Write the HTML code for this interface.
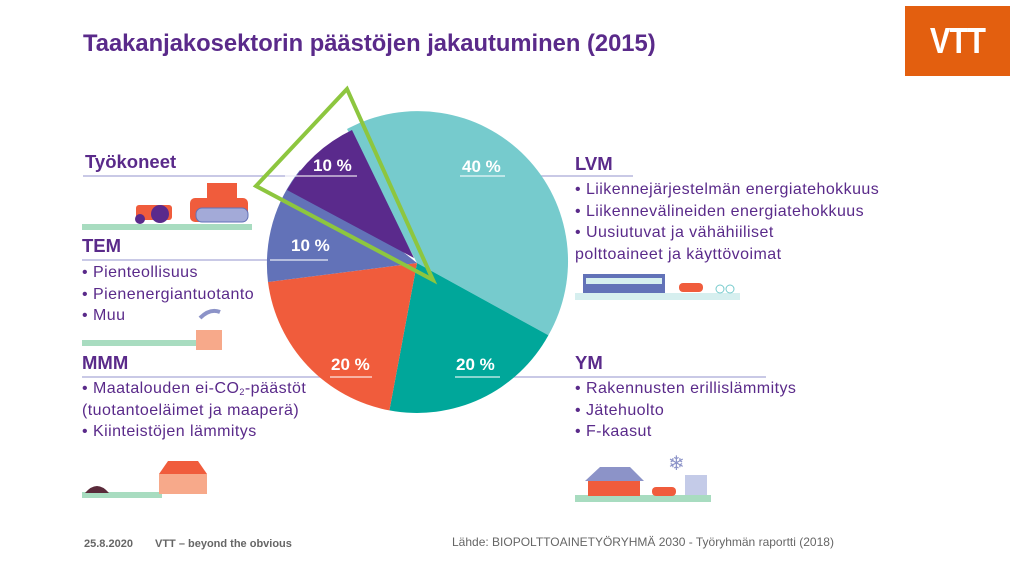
<!DOCTYPE html>
<html><head><meta charset="utf-8"><style>
body{margin:0;background:#fff;width:1024px;height:568px;overflow:hidden;position:relative;font-family:"Liberation Sans",sans-serif}
.t{position:absolute;color:#5a2a8a;white-space:nowrap}
.h{font-weight:bold;font-size:18.5px}
.b{font-size:16px;line-height:21.5px;letter-spacing:0.45px}
sub{font-size:9px;line-height:0;position:relative;top:2px;vertical-align:baseline}
</style></head><body>
<div class="t" style="left:83px;top:30px;font-size:24px;font-weight:bold;transform:scaleX(0.99);transform-origin:left">Taakanjakosektorin päästöjen jakautuminen (2015)</div>
<div style="position:absolute;left:905px;top:6px;width:105px;height:70px;background:#e35f0f"></div>
<div style="position:absolute;left:905px;top:20px;width:105px;text-align:center;color:#fff;font-weight:bold;font-size:36px;letter-spacing:-1px;transform:scaleX(0.85)">VTT</div>

<svg width="1024" height="568" style="position:absolute;left:0;top:0">
<g stroke="#a9a9d6" stroke-width="1.3">
<line x1="83" y1="176" x2="357" y2="176"/>
<line x1="82" y1="260" x2="330" y2="260"/>
<line x1="82" y1="377" x2="372" y2="377"/>
<line x1="455" y1="176" x2="633" y2="176"/>
<line x1="455" y1="377" x2="766" y2="377"/>
</g>
<path d="M417 263 L347 129 A150 150 0 0 1 548.4 335.3 Z" fill="#76cbcd"/>
<path d="M417 263 L548.4 335.3 A150 150 0 0 1 389.4 410.4 Z" fill="#00a79a"/>
<path d="M417 263 L389.4 410.4 A150 150 0 0 1 268 282 Z" fill="#f05c3c"/>
<path d="M417 263 L268 282 A150 150 0 0 1 300 170 L417 263 Z" fill="#6272b8"/>
<path d="M414 258 L287 190 A150 150 0 0 1 352 130 Z" fill="#5a2a8c"/>
<g stroke="#fff" stroke-width="1.3" opacity="0.85">
<line x1="460" y1="176" x2="505" y2="176"/>
<line x1="285" y1="176" x2="357" y2="176"/>
<line x1="270" y1="260" x2="328" y2="260"/>
<line x1="330" y1="377" x2="372" y2="377"/>
<line x1="455" y1="377" x2="500" y2="377"/>
</g>
<polygon points="347,89 256,186 433,280" fill="none" stroke="#8dc63f" stroke-width="4" stroke-linejoin="miter"/>
<g font-family="Liberation Sans" font-weight="bold" font-size="17" fill="#fff">
<text x="462" y="172">40 %</text><text x="313" y="171">10 %</text><text x="291" y="251">10 %</text>
<text x="331" y="370">20 %</text><text x="456" y="370">20 %</text></g>
<rect x="82" y="224" width="170" height="6" fill="#a8dcc0"/>
<rect x="190" y="198" width="58" height="24" rx="5" fill="#f05c3c"/><rect x="196" y="208" width="52" height="14" rx="6" fill="#a3aad8" stroke="#6272b8"/>
<rect x="207" y="183" width="30" height="15" fill="#f05c3c"/>
<rect x="136" y="205" width="36" height="15" rx="3" fill="#f05c3c"/><circle cx="160" cy="214" r="9" fill="#5a2a8c"/><circle cx="140" cy="219" r="5" fill="#5a2a8c"/>
<rect x="82" y="340" width="140" height="6" fill="#a8dcc0"/>
<rect x="196" y="330" width="26" height="20" fill="#f7a98a"/><path d="M200 318 q10 -10 20 -6" stroke="#8c93c8" stroke-width="4" fill="none"/>
<rect x="82" y="492" width="80" height="6" fill="#a8dcc0"/>
<path d="M85 493 q12 -14 24 0 z" fill="#5a2a3a"/>
<rect x="159" y="474" width="48" height="20" fill="#f7a98a"/><polygon points="159,474 168,461 198,461 207,474" fill="#f05c3c"/>
<rect x="575" y="293" width="165" height="7" fill="#d6efef"/>
<rect x="583" y="274" width="82" height="19" fill="#6272b8"/><rect x="586" y="278" width="76" height="6" fill="#d6efef"/>
<rect x="679" y="283" width="24" height="9" rx="4" fill="#f05c3c"/>
<circle cx="720" cy="289" r="4" fill="none" stroke="#76cbcd"/><circle cx="730" cy="289" r="4" fill="none" stroke="#76cbcd"/>
<rect x="575" y="495" width="136" height="7" fill="#a8dcc0"/>
<rect x="588" y="480" width="52" height="16" fill="#f05c3c"/><polygon points="585,481 600,467 630,467 644,481" fill="#8c93c8"/>
<rect x="652" y="487" width="24" height="9" rx="4" fill="#f05c3c"/>
<rect x="685" y="475" width="22" height="20" fill="#c4cbe8"/>
<text x="668" y="470" font-size="20" fill="#8c93c8">❄</text>
</svg>

<div class="t h" style="left:85px;top:151px">Työkoneet</div>
<div class="t h" style="left:82px;top:235px">TEM</div>
<div class="t b" style="left:82px;top:262px">• Pienteollisuus<br>• Pienenergiantuotanto<br>• Muu</div>
<div class="t h" style="left:82px;top:352px">MMM</div>
<div class="t b" style="left:82px;top:378px">• Maatalouden ei-CO<sub>2</sub>-päästöt<br>(tuotantoeläimet ja maaperä)<br>• Kiinteistöjen lämmitys</div>
<div class="t h" style="left:575px;top:153px">LVM</div>
<div class="t b" style="left:575px;top:179px">• Liikennejärjestelmän energiatehokkuus<br>• Liikennevälineiden energiatehokkuus<br>• Uusiutuvat ja vähähiiliset<br>polttoaineet ja käyttövoimat</div>
<div class="t h" style="left:575px;top:352px">YM</div>
<div class="t b" style="left:575px;top:378px">• Rakennusten erillislämmitys<br>• Jätehuolto<br>• F-kaasut</div>
<div class="t" style="left:84px;top:538px;font-size:11px;font-weight:bold;color:#666">25.8.2020</div>
<div class="t" style="left:155px;top:538px;font-size:11px;font-weight:bold;color:#666">VTT – beyond the obvious</div>
<div class="t" style="left:452px;top:535px;font-size:12px;color:#666">Lähde: BIOPOLTTOAINETYÖRYHMÄ 2030 - Työryhmän raportti  (2018)</div>
</body></html>
